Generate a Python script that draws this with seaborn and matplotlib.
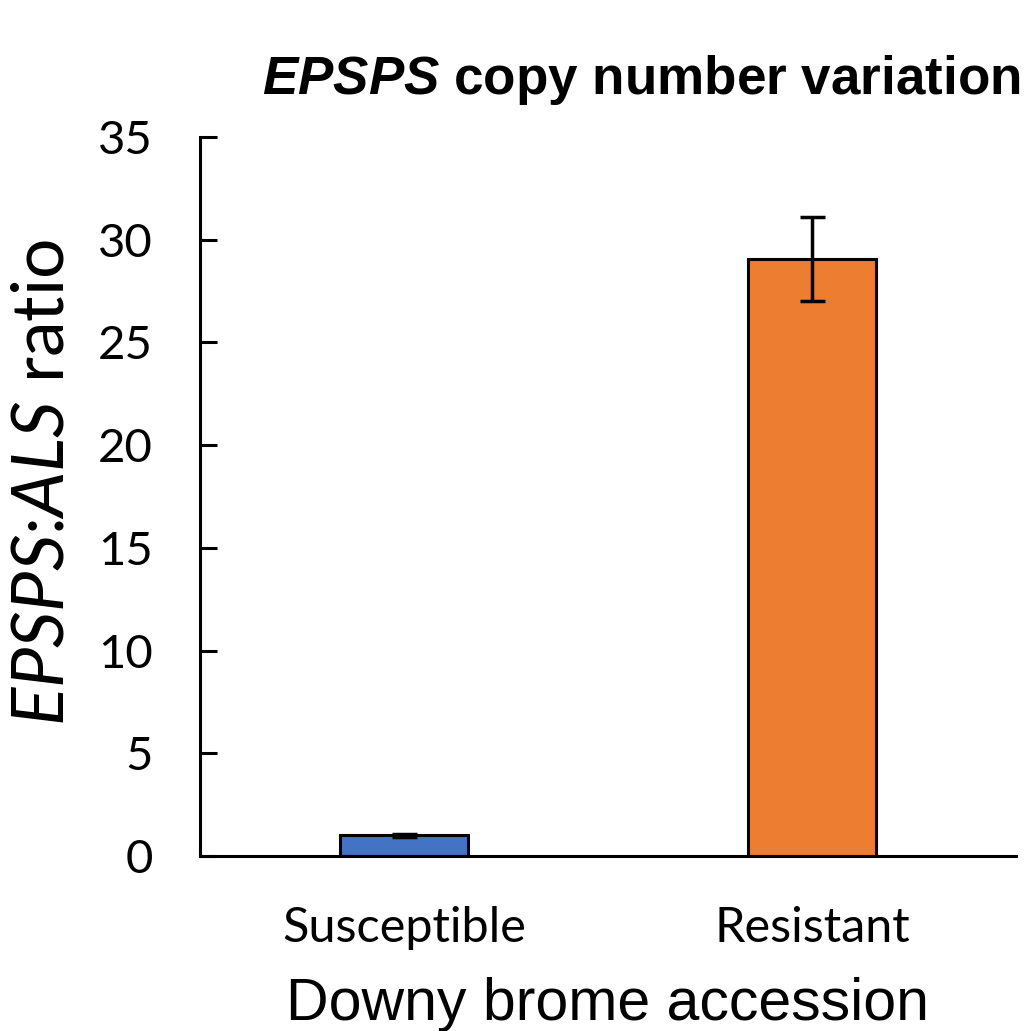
import pandas as pd
import seaborn as sns
import matplotlib.pyplot as plt

# values
accessions = ["Susceptible", "Resistant"]
ratio_mean = [1.0, 29.05]
ratio_err = [0.08, 2.05]
bar_colors = ["#4472C4", "#ED7D31"]
y_ticks = [0, 5, 10, 15, 20, 25, 30, 35]

sns.set_style("ticks", {"axes.edgecolor": "black", "text.color": "black",
                        "xtick.color": "black", "ytick.color": "black",
                        "axes.labelcolor": "black"})
plt.rcParams["font.family"] = ["Lato", "DejaVu Sans"]
plt.rcParams["mathtext.fontset"] = "custom"
plt.rcParams["mathtext.rm"] = "Lato"
plt.rcParams["mathtext.it"] = "Lato:italic"
plt.rcParams["mathtext.bf"] = "Liberation Sans:italic:bold"

df = pd.DataFrame({"Accession": accessions, "Ratio": ratio_mean})

fig = plt.figure(figsize=(10.24, 10.31), dpi=100)
ax = fig.add_axes([200 / 1024, 1 - 856 / 1031, 816 / 1024, 719 / 1031])

sns.barplot(ax=ax, data=df, x="Accession", y="Ratio", hue="Accession",
            palette=bar_colors, width=0.316, edgecolor="black", linewidth=2.2,
            saturation=1, legend=False, errorbar=None)
ax.errorbar(range(len(accessions)), ratio_mean, yerr=ratio_err, fmt="none",
            ecolor="black", elinewidth=2.5, capsize=9, capthick=2.5, zorder=5)

ax.set_xlim(-0.5, 1.5)
ax.set_ylim(0, 35)
ax.set_yticks(y_ticks)
sns.despine(ax=ax)
for side in ["left", "bottom"]:
    ax.spines[side].set_linewidth(2.2)

ax.tick_params(axis="y", direction="in", length=12, width=2.2, pad=34, labelsize=34)
ax.tick_params(axis="x", length=0, pad=36, labelsize=35)

ax.set_ylabel(r"$\mathit{EPSPS}$:$\mathit{ALS}$ ratio", fontsize=51.5, va="baseline")
ax.yaxis.set_label_coords(-0.167, 0.52)
ax.set_xlabel("Downy brome accession", fontsize=42.5, family="Liberation Sans", va="baseline")
ax.xaxis.set_label_coords(0.5, -0.228)

fig.text(262 / 1024, 1 - 94 / 1031, r"$\mathbf{EPSPS}$ copy number variation",
         fontsize=38.2, family="Liberation Sans", weight="bold", ha="left", va="baseline")

fig.savefig("out.png", dpi=100)
